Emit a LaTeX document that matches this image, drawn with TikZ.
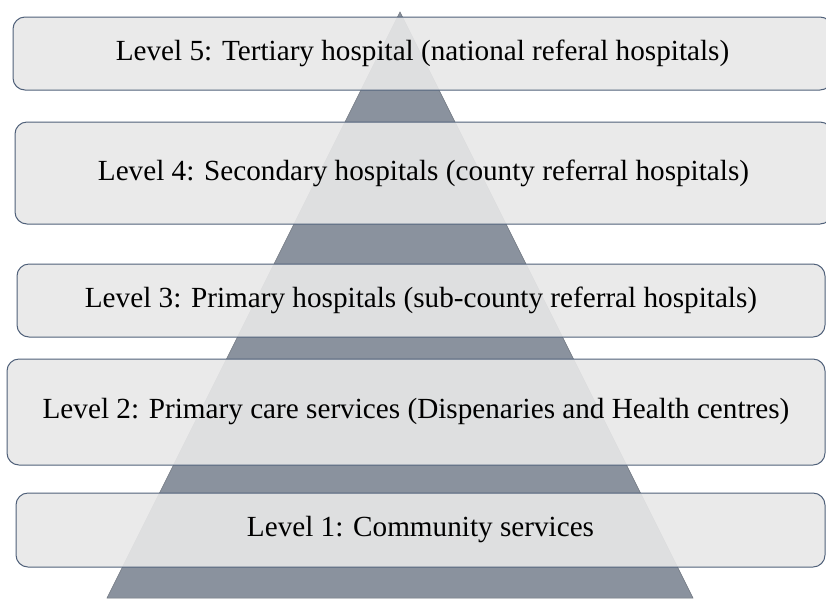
\documentclass[tikz,border=0pt]{standalone}
\usepackage{fontspec}
\setmainfont{Liberation Serif}
\usepackage{xcolor}
\definecolor{pyramidgrey}{HTML}{8A929E}
\definecolor{boxfill}{HTML}{E8E8E8}
\definecolor{boxline}{HTML}{50617A}
\tikzset{
	levelbox/.style={draw=boxline,line width=1pt,fill=boxfill,fill opacity=0.9,text opacity=1,
		rounded corners=12pt,inner sep=0pt,font=\fontsize{29.2}{35}\selectfont}
}

\begin{document}
\begin{tikzpicture}[x=1pt,y=-1pt]
	\useasboundingbox (0,0) rectangle (826,598);
	\clip (0,0) rectangle (826,598);
	
	% pyramid behind the levels
	\draw[fill=pyramidgrey,draw=pyramidgrey!80!black,line width=0.5pt] (400,12) -- (693,598) -- (107,598) -- cycle;
	
	\node[levelbox,minimum width=819pt,minimum height=73pt] (level5) at (422.5,53.5) {Level 5: Tertiary hospital (national referal hospitals)};
	\node[levelbox,minimum width=817pt,minimum height=102pt] (level4) at (423.5,173) {Level 4: Secondary hospitals (county referral hospitals)};
	\node[levelbox,minimum width=808pt,minimum height=73pt] (level3) at (421,300.5) {Level 3: Primary hospitals (sub-county referral hospitals)};
	\node[levelbox,minimum width=818pt,minimum height=106pt] (level2) at (416,412) {Level 2: Primary care services (Dispenaries and Health centres)};
	\node[levelbox,minimum width=809pt,minimum height=74pt] (level1) at (420.5,530) {Level 1: Community services};
\end{tikzpicture}
\end{document}
